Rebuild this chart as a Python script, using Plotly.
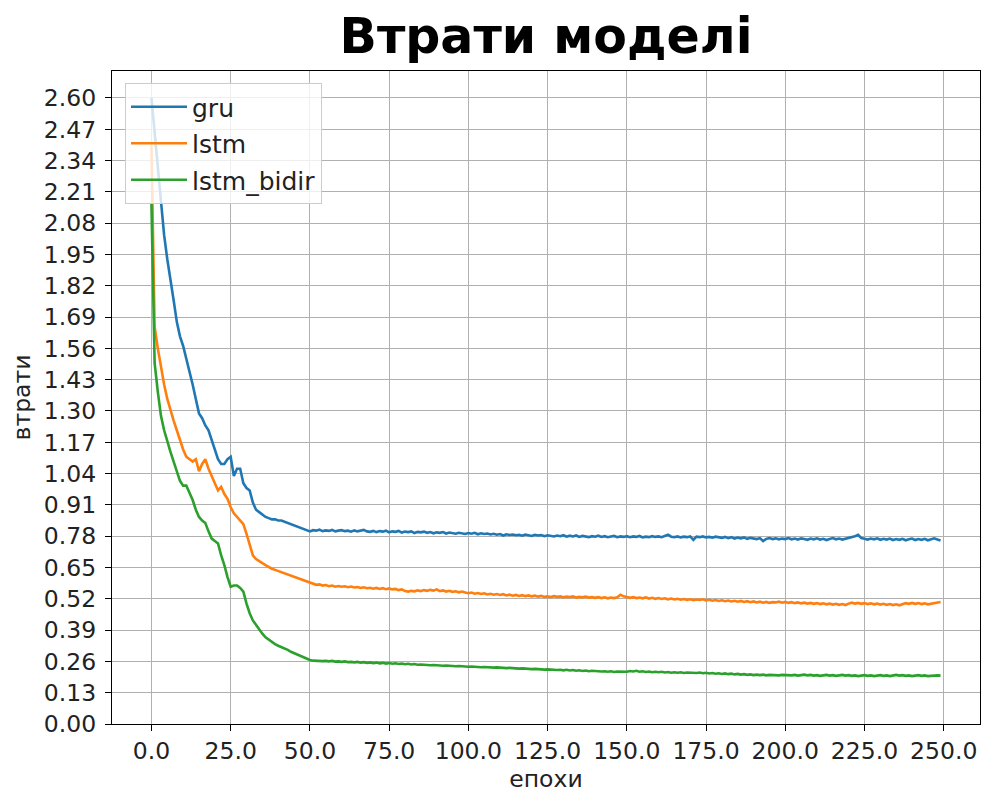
import plotly.graph_objects as go

epochs = list(range(250))

gru = [
    2.60, 2.45, 2.30, 2.16, 2.03, 1.93, 1.85, 1.76, 1.67, 1.61,
    1.57, 1.52, 1.47, 1.41, 1.35, 1.29, 1.27, 1.24, 1.22, 1.18,
    1.14, 1.10, 1.08, 1.08, 1.10, 1.11, 1.03, 1.06, 1.06, 1.00,
    0.98, 0.97, 0.92, 0.89, 0.88, 0.87, 0.86, 0.855, 0.85, 0.85,
    0.845, 0.845, 0.84, 0.835, 0.83, 0.825, 0.82, 0.815, 0.81, 0.805,
    0.800, 0.805, 0.803, 0.807, 0.801, 0.804, 0.802, 0.806, 0.800, 0.803,
    0.805, 0.801, 0.803, 0.799, 0.804, 0.800, 0.802, 0.806, 0.800, 0.798,
    0.802, 0.797, 0.801, 0.799, 0.803, 0.796, 0.800, 0.798, 0.802, 0.795,
    0.799, 0.797, 0.800, 0.793, 0.798, 0.796, 0.799, 0.794, 0.797, 0.792,
    0.796, 0.794, 0.797, 0.791, 0.795, 0.793, 0.790, 0.794, 0.792, 0.789,
    0.793, 0.790, 0.794, 0.788, 0.792, 0.789, 0.791, 0.787, 0.790, 0.786,
    0.789, 0.783, 0.788, 0.785, 0.787, 0.784, 0.786, 0.782, 0.787, 0.784,
    0.781, 0.786, 0.783, 0.785, 0.780, 0.784, 0.782, 0.779, 0.783, 0.780,
    0.784, 0.778, 0.782, 0.779, 0.783, 0.777, 0.781, 0.779, 0.776, 0.780,
    0.778, 0.782, 0.777, 0.780, 0.776, 0.779, 0.781, 0.776, 0.779, 0.777,
    0.780, 0.776, 0.779, 0.777, 0.781, 0.775, 0.778, 0.776, 0.780, 0.777,
    0.779, 0.776, 0.781, 0.786, 0.778, 0.776, 0.779, 0.775, 0.778, 0.776,
    0.779, 0.765, 0.778, 0.776, 0.779, 0.775, 0.777, 0.774, 0.778, 0.775,
    0.773, 0.777, 0.772, 0.776, 0.770, 0.774, 0.771, 0.775, 0.769, 0.773,
    0.770, 0.768, 0.772, 0.760, 0.769, 0.772, 0.768, 0.771, 0.767, 0.770,
    0.768, 0.772, 0.767, 0.770, 0.766, 0.771, 0.768, 0.765, 0.770, 0.767,
    0.771, 0.766, 0.769, 0.764, 0.768, 0.772, 0.767, 0.770, 0.766, 0.769,
    0.772, 0.775, 0.780, 0.786, 0.772, 0.769, 0.766, 0.770, 0.767, 0.771,
    0.765, 0.769, 0.766, 0.770, 0.764, 0.768, 0.765, 0.769, 0.763, 0.767,
    0.770, 0.764, 0.768, 0.765, 0.769, 0.763, 0.767, 0.771, 0.766, 0.762,
]

lstm = [
    2.40, 1.65, 1.56, 1.48, 1.41, 1.35, 1.30, 1.26, 1.22, 1.18,
    1.14, 1.11, 1.10, 1.09, 1.10, 1.05, 1.08, 1.10, 1.06, 1.03,
    1.00, 0.97, 0.985, 0.955, 0.935, 0.90, 0.875, 0.86, 0.845, 0.83,
    0.79, 0.74, 0.70, 0.685, 0.675, 0.668, 0.66, 0.652, 0.645, 0.64,
    0.635, 0.63, 0.625, 0.622, 0.617, 0.612, 0.605, 0.60, 0.595, 0.59,
    0.585, 0.582, 0.578, 0.580, 0.575, 0.577, 0.572, 0.575, 0.570, 0.573,
    0.570, 0.572, 0.568, 0.571, 0.567, 0.569, 0.565, 0.568, 0.564, 0.566,
    0.562, 0.565, 0.561, 0.564, 0.560, 0.563, 0.559, 0.561, 0.556, 0.559,
    0.552, 0.550, 0.553, 0.551, 0.555, 0.552, 0.556, 0.553, 0.557, 0.554,
    0.559, 0.552, 0.555, 0.550, 0.553, 0.549, 0.551, 0.547, 0.550, 0.546,
    0.543, 0.546, 0.541, 0.544, 0.540, 0.543, 0.538, 0.541, 0.537, 0.540,
    0.536, 0.539, 0.534, 0.537, 0.533, 0.536, 0.532, 0.535, 0.531, 0.534,
    0.530, 0.533, 0.529, 0.532, 0.528, 0.530, 0.527, 0.531, 0.528, 0.530,
    0.526, 0.529, 0.527, 0.530, 0.525, 0.528, 0.526, 0.529, 0.525, 0.527,
    0.524, 0.527, 0.523, 0.526, 0.522, 0.525, 0.523, 0.526, 0.537, 0.530,
    0.526, 0.524, 0.527, 0.523, 0.525, 0.522, 0.526, 0.521, 0.524, 0.520,
    0.523, 0.519, 0.522, 0.518, 0.521, 0.517, 0.520, 0.516, 0.519, 0.515,
    0.518, 0.514, 0.517, 0.515, 0.518, 0.513, 0.516, 0.512, 0.515, 0.511,
    0.514, 0.510, 0.513, 0.509, 0.512, 0.508, 0.511, 0.507, 0.510, 0.506,
    0.509, 0.505, 0.508, 0.504, 0.507, 0.503, 0.506, 0.505, 0.508, 0.504,
    0.507, 0.503, 0.506, 0.502, 0.505, 0.501, 0.504, 0.500, 0.503, 0.499,
    0.502, 0.498, 0.501, 0.497, 0.500, 0.496, 0.499, 0.495, 0.498, 0.494,
    0.500, 0.504, 0.500, 0.503, 0.499, 0.502, 0.498, 0.501, 0.497, 0.500,
    0.496, 0.499, 0.495, 0.498, 0.494, 0.497, 0.493, 0.498, 0.502, 0.499,
    0.503, 0.499, 0.502, 0.498, 0.501, 0.497, 0.500, 0.504, 0.506, 0.507,
]

lstm_bidir = [
    2.16, 1.50, 1.38, 1.28, 1.22, 1.17, 1.13, 1.09, 1.05, 1.01,
    0.99, 0.99, 0.96, 0.93, 0.89, 0.86, 0.845, 0.835, 0.80, 0.77,
    0.76, 0.75, 0.70, 0.66, 0.61, 0.57, 0.575, 0.575, 0.565, 0.55,
    0.50, 0.46, 0.43, 0.41, 0.39, 0.375, 0.36, 0.35, 0.34, 0.332,
    0.325, 0.32, 0.315, 0.308, 0.30, 0.294, 0.288, 0.282, 0.277, 0.271,
    0.266, 0.263, 0.262, 0.264, 0.261, 0.262, 0.260, 0.262, 0.259, 0.260,
    0.258, 0.260, 0.257, 0.258, 0.256, 0.258, 0.255, 0.257, 0.254, 0.256,
    0.253, 0.255, 0.252, 0.254, 0.251, 0.253, 0.250, 0.252, 0.249, 0.251,
    0.248, 0.250, 0.247, 0.249, 0.246, 0.247, 0.245, 0.246, 0.244, 0.245,
    0.243, 0.244, 0.242, 0.243, 0.241, 0.242, 0.240, 0.241, 0.239, 0.240,
    0.238, 0.239, 0.237, 0.238, 0.236, 0.237, 0.235, 0.236, 0.234, 0.235,
    0.233, 0.234, 0.232, 0.233, 0.231, 0.232, 0.230, 0.231, 0.229, 0.230,
    0.228, 0.229, 0.227, 0.228, 0.226, 0.227, 0.225, 0.226, 0.224, 0.225,
    0.223, 0.225, 0.222, 0.224, 0.221, 0.223, 0.220, 0.222, 0.219, 0.221,
    0.219, 0.220, 0.218, 0.219, 0.217, 0.219, 0.216, 0.218, 0.217, 0.219,
    0.217, 0.220, 0.218, 0.221, 0.217, 0.219, 0.216, 0.218, 0.215, 0.217,
    0.215, 0.217, 0.214, 0.216, 0.213, 0.215, 0.213, 0.215, 0.212, 0.214,
    0.213, 0.215, 0.212, 0.214, 0.211, 0.213, 0.210, 0.212, 0.209, 0.211,
    0.208, 0.210, 0.207, 0.209, 0.206, 0.208, 0.205, 0.207, 0.204, 0.206,
    0.203, 0.205, 0.203, 0.205, 0.202, 0.204, 0.203, 0.205, 0.202, 0.204,
    0.203, 0.205, 0.202, 0.204, 0.201, 0.203, 0.205, 0.202, 0.204, 0.201,
    0.203, 0.200, 0.202, 0.204, 0.201, 0.203, 0.200, 0.202, 0.204, 0.201,
    0.203, 0.200, 0.202, 0.199, 0.201, 0.203, 0.200, 0.202, 0.199, 0.201,
    0.203, 0.200, 0.202, 0.199, 0.201, 0.204, 0.201, 0.203, 0.200, 0.202,
    0.199, 0.201, 0.203, 0.200, 0.202, 0.199, 0.201, 0.200, 0.202, 0.201,
]

series_names = ["gru", "lstm", "lstm_bidir"]
series_colors = ["#1f77b4", "#ff7f0e", "#2ca02c"]

y_ticks = [round(0.13 * i, 2) for i in range(21)]
y_tick_labels = [f"{v:.2f}" for v in y_ticks]
x_ticks = [0, 25, 50, 75, 100, 125, 150, 175, 200, 225, 250]
x_tick_labels = [f"{v:.1f}" for v in x_ticks]

FONT = "DejaVu Sans"
TXT = "#222222"

# the page puts the figure 8px in from the top-left corner and only shows
# it up to about x=981, so the figure is sized to fit inside that area
W, H = 973, 785
L, R, T, B = 104, 1, 63, 69

fig = go.Figure()
for name, vals, col in zip(series_names, [gru, lstm, lstm_bidir], series_colors):
    fig.add_trace(go.Scatter(
        x=epochs, y=vals, mode="lines", name=name, legendgroup=name,
        line=dict(color=col, width=2.6),
    ))

axis_common = dict(
    showline=True, linecolor="black", linewidth=1.3, mirror=True,
    ticks="outside", ticklen=6, tickwidth=1.3, tickcolor="black",
    showgrid=True, gridcolor="#b0b0b0", gridwidth=1.3,
    zeroline=False, automargin=False,
    tickfont=dict(family=FONT, size=23.5, color=TXT),
)

fig.update_layout(
    width=W, height=H,
    margin=dict(l=L, r=R, t=T, b=B),
    paper_bgcolor="white", plot_bgcolor="white",
    title=dict(
        text="<b>Втрати моделі</b>",
        font=dict(family=FONT, size=49, color="black"),
        x=(L + (W - R)) / 2 / W, xanchor="center",
        y=1 - 28 / H, yanchor="middle",
    ),
    xaxis=dict(
        range=[-12.45, 261.45],
        tickvals=x_ticks, ticktext=x_tick_labels,
        title=dict(text="епохи", font=dict(family=FONT, size=23.5, color=TXT), standoff=16),
        **axis_common,
    ),
    yaxis=dict(
        range=[0, 2.712],
        tickvals=y_ticks, ticktext=y_tick_labels,
        ticklabelstandoff=4,
        title=dict(text="втрати", font=dict(family=FONT, size=23.5, color=TXT), standoff=19),
        **axis_common,
    ),
    legend=dict(
        x=(125 - 8 - L) / (W - L - R), y=1 - (83 - 8 - T) / (H - T - B),
        xanchor="left", yanchor="top",
        bgcolor="rgba(255,255,255,0.8)", bordercolor="#cccccc", borderwidth=1,
        font=dict(family=FONT, size=25, color=TXT),
        traceorder="grouped", tracegroupgap=1, itemwidth=56,
    ),
    showlegend=True,
)

fig.write_html("out.html")
